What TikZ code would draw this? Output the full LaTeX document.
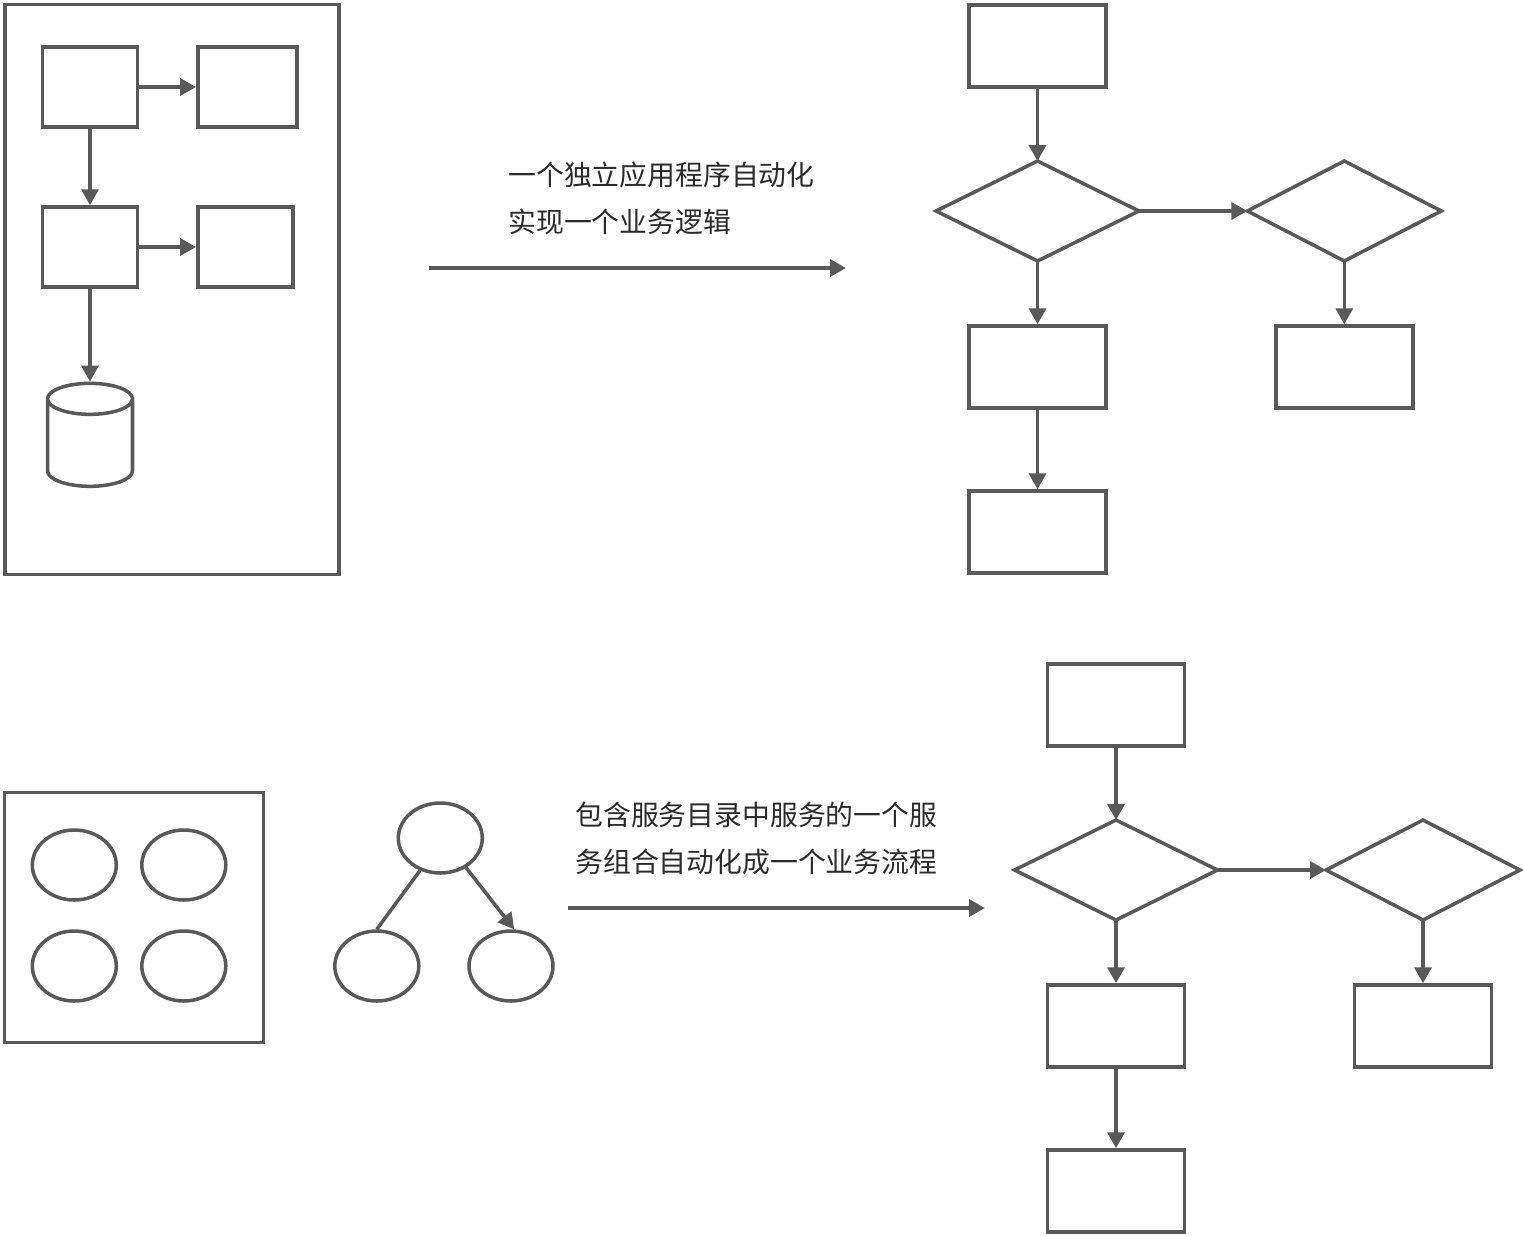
\documentclass[tikz,border=0pt]{standalone}
\usepackage{fontspec}
\usetikzlibrary{positioning,shapes.geometric,arrows.meta}
\newfontfamily\cjk{Noto Sans CJK SC}
\definecolor{linegray}{HTML}{595959}
\definecolor{textgray}{HTML}{2B2B2B}
\tikzset{
    box/.style={rectangle,draw=linegray,line width=2pt,minimum width=#1,minimum height=1.6cm,inner sep=0pt},
    box/.default=1.9cm,
    step box/.style={rectangle,draw=linegray,line width=2pt,minimum width=2.74cm,minimum height=1.64cm,inner sep=0pt},
    choice/.style={diamond,draw=linegray,line width=2pt,minimum width=#1,minimum height=2cm,inner sep=0pt,outer sep=0pt,aspect=2},
    oval/.style={ellipse,draw=linegray,line width=2pt,minimum width=1.68cm,minimum height=1.4cm,inner sep=0pt},
    store/.style={cylinder,shape border rotate=90,draw=linegray,line width=2pt,minimum width=1.7cm,minimum height=2.06cm,shape aspect=0.62,inner sep=0.5cm},
    flow/.style={draw=linegray,line width=2pt,-{Triangle[length=0.32cm,width=0.34cm]}},
    plain/.style={draw=linegray,line width=2pt},
    caption/.style={anchor=west,align=left,inner sep=0pt,text=textgray,font=\cjk\fontsize{15.85}{26.7}\selectfont}
}

\begin{document}
\begin{tikzpicture}[x=0.02cm,y=-0.02cm]
    \useasboundingbox (0,0) rectangle (1523,1235);

    % top left application
    \node[plain,rectangle,minimum width=6.68cm,minimum height=11.4cm] (app) at (171.8,289.5) {};
    \node[box] (a1) at (90,87) {};
    \node[box=1.98cm] (a2) at (247.3,87) {};
    \node[box] (a3) at (90,247) {};
    \node[box] (a4) at (245.3,247) {};
    \node[store] (db) at (90,450.5) {};

    \draw[flow] (a1) -- (a2);
    \draw[flow] (a1) -- (a3);
    \draw[flow] (a3) -- (a4);
    \draw[flow] (a3) -- (db.north);

    % top arrow and text
    \coordinate (s1) at (429,268);
    \coordinate (t1) at (846,268);
    \draw[flow] (s1) -- (t1);
    \node[caption] (l1) at (508,198.5) {一个独立应用程序自动化\\实现一个业务逻辑};

    % top right flow
    \node[step box] (b1) at (1037.5,46) {};
    \node[choice=4.06cm] (c1) at (1037.5,211) {};
    \node[choice=3.88cm] (c2) at (1344.3,211) {};
    \node[step box] (b2) at (1037.5,367) {};
    \node[step box] (b3) at (1344.3,367) {};
    \node[step box] (b4) at (1037.5,532) {};

    \draw[flow] (b1) -- (c1);
    \draw[flow] (c1) -- (c2);
    \draw[flow] (c1) -- (b2);
    \draw[flow] (c2) -- (b3);
    \draw[flow] (b2) -- (b4);

    % bottom left services
    \node[plain,rectangle,minimum width=5.18cm,minimum height=5cm] (cat) at (134.2,917.5) {};
    \node[oval] (o1) at (74.3,865) {};
    \node[oval] (o2) at (183.8,865) {};
    \node[oval] (o3) at (74.3,966) {};
    \node[oval] (o4) at (183.8,966) {};

    \node[oval] (o5) at (440.3,838) {};
    \node[oval] (o6) at (376.8,966) {};
    \node[oval] (o7) at (511,966) {};

    \draw[plain] (o5.-122) -- (o6.north);
    \draw[flow] (o5.-49) -- (o7.85);

    % bottom arrow and text
    \coordinate (s2) at (568,908);
    \coordinate (t2) at (985,908);
    \draw[flow] (s2) -- (t2);
    \node[caption] (l2) at (575,838.5) {包含服务目录中服务的一个服\\务组合自动化成一个业务流程};

    % bottom right flow
    \node[step box] (d1) at (1116,705) {};
    \node[choice=4.06cm] (e1) at (1116,870) {};
    \node[choice=3.88cm] (e2) at (1423,870) {};
    \node[step box] (d2) at (1116,1026) {};
    \node[step box] (d3) at (1423,1026) {};
    \node[step box] (d4) at (1116,1191) {};

    \draw[flow] (d1) -- (e1);
    \draw[flow] (e1) -- (e2);
    \draw[flow] (e1) -- (d2);
    \draw[flow] (e2) -- (d3);
    \draw[flow] (d2) -- (d4);

\end{tikzpicture}
\end{document}
